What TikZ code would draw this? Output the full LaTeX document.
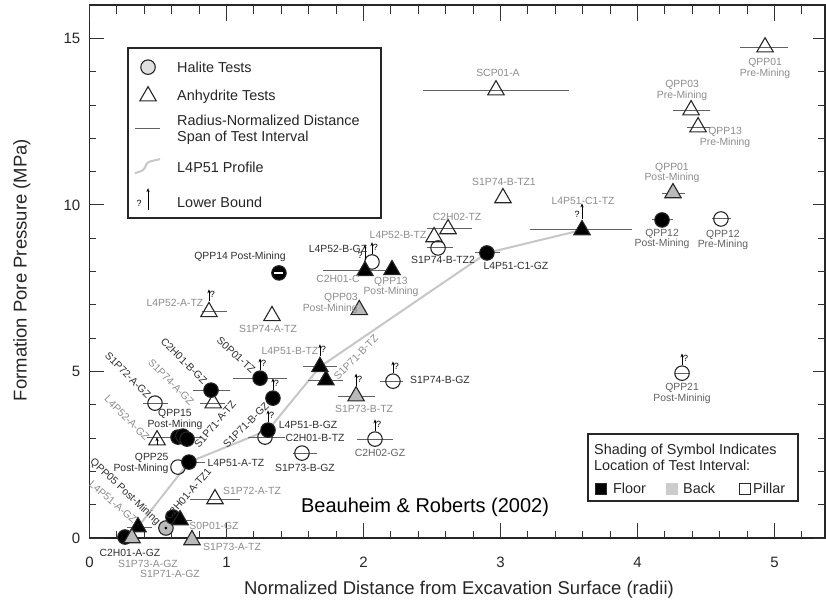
\documentclass[tikz,border=0pt]{standalone}
\usepackage{fontspec}
\setmainfont{Liberation Sans}
\usetikzlibrary{shapes.geometric,arrows.meta,backgrounds,positioning}

\tikzset{
  sym/.style={draw=black!85, line width=1.1pt, inner sep=0pt},
  halite/.style={sym, circle, minimum size=14.5pt},
  anhy/.style={sym, regular polygon, regular polygon sides=3, minimum size=19pt},
  floor/.style={fill=black},
  back/.style={fill=black!27},
  pillar/.style={},
  lab/.style={font=\fontsize{10.4}{10.8}\selectfont, text=black!45, align=center, inner sep=0pt},
  mlab/.style={lab, text=black!62},
  dlab/.style={lab, text=black!82},
  bar/.style={draw=black!62, line width=1pt},
  profile/.style={draw=black!22, line width=2pt},
  lbarrow/.style={-{Stealth[length=4pt,width=3.2pt]}, line width=0.8pt},
  qmark/.style={font=\fontsize{9}{9}\selectfont, inner sep=0pt},
  tick/.style={line width=1pt, draw=black!80},
  ticklab/.style={font=\fontsize{15}{15}\selectfont, text=black!85, inner sep=0pt},
  legbox/.style={draw=black!85, line width=1.8pt, inner sep=0pt},
  legtext/.style={font=\fontsize{14.4}{16}\selectfont, text=black!85, anchor=west, inner sep=0pt, align=left},
  swatch/.style={draw=black!85, line width=0.8pt, minimum width=11.5pt, minimum height=11pt, inner sep=0pt},
}

% error bar through a test symbol, lower-bound arrows, labels
\newcommand{\ebar}[3]{\draw[bar] (#2,0 |- #1.center) -- (#3,0 |- #1.center);}
\newcommand{\lbR}[1]{\draw[lbarrow] (#1.north) -- ++(0,12pt) node[qmark, pos=0.55, right=0.6pt] {?};}
\newcommand{\lbL}[1]{\draw[lbarrow] (#1.north) -- ++(0,16pt) node[qmark, pos=0.3, left=2pt] {?};}
\newcommand{\ptlab}[4][lab]{\node[#1] at ([shift={(#3)}]#2.center) {#4};}

\begin{document}
\begin{tikzpicture}[x=137pt, y=33.3pt]
\useasboundingbox (-0.65328,-1.95195) rectangle (5.37591,16.1562);

% frame and ticks
\draw[line width=1.8pt, draw=black!85] (0,0) rectangle (5.37,16);
\foreach \i in {0.2,0.4,...,5.21} {
  \draw[tick] (\i,0) -- ++(0,7pt);
  \draw[tick] (\i,16) -- ++(0,-9pt);
}
\foreach \i in {0,...,5} {
  \draw[tick] (\i,0) -- ++(0,15pt);
  \draw[tick] (\i,16) -- ++(0,-16pt);
  \node[ticklab] at ([yshift=-24pt]\i,0) {\i};
}
\foreach \j in {1,...,15} {
  \draw[tick] (0,\j) -- ++(7pt,0);
  \draw[tick] (5.37,\j) -- ++(-7pt,0);
}
\foreach \j in {0,5,10,15} {
  \draw[tick] (0,\j) -- ++(15pt,0);
  \draw[tick] (5.37,\j) -- ++(-12pt,0);
  \node[ticklab, anchor=east] at ([xshift=-9pt]0,\j) {\j};
}
\node[font=\fontsize{18.5}{18.5}\selectfont, text=black!85] (xtitle) at (2.697,-1.562) {Normalized Distance from Excavation Surface (radii)};
\node[font=\fontsize{18.5}{18.5}\selectfont, text=black!85, rotate=90] (ytitle) at (-0.493,8.05) {Formation Pore Pressure (MPa)};
\node[font=\fontsize{20}{20}\selectfont] (cite) at (2.449,0.931) {Beauheim \& Roberts (2002)};

% pillar and back tests
\node[anhy,pillar] (qppApre) at (4.931,14.74) {};
\node[anhy,pillar] (scpA) at (2.967,13.45) {};
\node[anhy,pillar] (qppCpre) at (4.391,12.85) {};
\node[anhy,pillar] (qppMpre) at (4.442,12.34) {};
\node[anhy,pillar] (sBtzA) at (3.018,10.21) {};
\node[anhy,back] (qppApost) at (4.259,10.36) {};
\node[halite,pillar] (qppLpre) at (4.609,9.58) {};
\node[anhy,pillar] (cBtz) at (2.617,9.28) {};
\node[anhy,pillar] (lBtzB) at (2.515,9.04) {};
\node[halite,pillar] (sBtzB) at (2.544,8.71) {};
\node[halite,pillar] (lBgzB) at (2.062,8.29) {};
\node[anhy,back] (qppCpost) at (1.969,6.85) {};
\node[anhy,pillar] (lAtzB) at (0.872,6.79) {};
\node[anhy,pillar] (sAtzD) at (1.332,6.67) {};
\node[anhy,pillar] (sAgzD) at (0.903,4.05) {};
\node[halite,pillar] (sAgzB) at (0.478,4.05) {};
\node[anhy,pillar] (lAgzB) at (0.493,2.94) {};
\node[halite,pillar] (cBtzH) at (1.281,3.03) {};
\node[anhy,back] (sBtzC) at (1.946,4.26) {};
\node[halite,pillar] (sBgzD) at (2.215,4.71) {};
\node[halite,pillar] (cBgzB) at (2.084,2.97) {};
\node[halite,pillar] (sBgzC) at (1.551,2.55) {};
\node[halite,pillar] (qppY) at (0.646,2.13) {};
\node[anhy,pillar] (sAtzB) at (0.916,1.17) {};
\node[halite,back] (sOgz) at (0.558,0.30) {};
\fill (sOgz.center) circle (1.5pt);
\node[halite,pillar] (qppU) at (4.325,4.95) {};

% floor tests
\node[halite,floor] (qppLpost) at (4.179,9.55) {};
\node[anhy,floor] (lCtz) at (3.595,9.25) {};
\node[halite,floor] (lCgz) at (2.901,8.56) {};
\node[anhy,floor] (cCx) at (2.011,8.02) {};
\node[anhy,floor] (qppMpost) at (2.208,8.05) {};
\node[halite,floor] (qppN) at (1.383,7.96) {};
\draw[white, line width=1.5pt] ([xshift=-4.5pt]qppN.center) -- ([xshift=4.5pt]qppN.center);
\node[halite,floor] (sOtz) at (1.245,4.80) {};
\node[halite,floor] (cBgz) at (0.887,4.44) {};
\node[halite,floor] (qppOa) at (0.646,3.03) {};
\node[halite,floor] (qppOb) at (0.682,3.06) {};
\node[halite,floor] (qppOc) at (0.712,2.97) {};
\node[halite,floor] (sBgzA) at (1.339,4.20) {};
\node[halite,floor] (lBgz) at (1.303,3.24) {};
\node[anhy,floor] (lBtz) at (1.682,5.14) {};
\node[anhy,floor] (sBtzA1) at (1.726,4.74) {};
\node[halite,floor] (lAtz) at (0.726,2.28) {};
\node[halite,floor] (cAtzH) at (0.609,0.63) {};
\node[anhy,floor] (cAtz) at (0.661,0.54) {};
\node[halite,floor] (cAgz) at (0.259,0.03) {};
\node[anhy,floor] (lAgz) at (0.354,0.33) {};
\node[anhy,back] (sAgzC) at (0.310,0.0) {};
\node[anhy,back] (sAtzC) at (0.748,-0.06) {};

% bars and L4P51 profile behind the symbols
\begin{pgfonlayer}{background}
\draw[profile] (lAgz.center) -- (lAtz.center) -- (lBgz.center) -- (lBtz.center) -- (lCgz.center) -- (lCtz.center);
\ebar{qppApre}{4.748}{5.099}
\ebar{scpA}{2.434}{3.500}
\ebar{qppCpre}{4.259}{4.529}
\ebar{qppMpre}{4.361}{4.529}
\ebar{qppApost}{4.179}{4.347}
\ebar{qppLpost}{4.106}{4.259}
\ebar{qppLpre}{4.544}{4.682}
\ebar{lCtz}{3.215}{3.959}
\ebar{lCgz}{2.814}{2.996}
\ebar{cBtz}{2.464}{2.792}
\ebar{sBtzB}{2.467}{2.653}
\ebar{cCx}{1.704}{2.193}
\ebar{lAtzB}{0.821}{1.004}
\ebar{sOtz}{1.047}{1.442}
\ebar{cBgz}{0.755}{1.026}
\ebar{sAgzD}{0.807}{0.989}
\ebar{sAgzB}{0.391}{0.573}
\ebar{qppOa}{0.420}{0.821}
\ebar{cBtzH}{1.157}{1.427}
\ebar{lBtz}{1.558}{1.807}
\ebar{sBtzA1}{1.595}{1.850}
\ebar{sBtzC}{1.814}{2.084}
\ebar{sBgzD}{2.120}{2.288}
\ebar{cBgzB}{1.953}{2.215}
\ebar{sBgzC}{1.485}{1.661}
\ebar{lAtz}{0.683}{0.843}
\ebar{sAtzB}{0.734}{1.100}
\ebar{cAtz}{0.573}{0.748}
\ebar{lAgz}{0.274}{0.456}
\ebar{cAgz}{0.150}{0.880}
\ebar{qppU}{4.274}{4.376}
\end{pgfonlayer}

% lower bounds
\lbL{lCtz}
\lbL{cCx}
\lbR{lBgzB}
\lbR{lAtzB}
\lbR{sOtz}
\lbR{sBgzA}
\lbR{lBgz}
\lbR{lBtz}
\lbR{sBtzC}
\lbR{sBgzD}
\lbR{cBgzB}
\lbR{qppU}
\draw[lbarrow, line width=0.6pt] ([yshift=-5pt]lAgzB.center) -- ([yshift=3pt]lAgzB.center);

% labels
\ptlab{qppApre}{0pt,-21pt}{QPP01\\Pre-Mining}
\ptlab{scpA}{2pt,17pt}{SCP01-A}
\ptlab{qppCpre}{-9pt,19.5pt}{QPP03\\Pre-Mining}
\ptlab{qppMpre}{27pt,-10.5pt}{QPP13\\Pre-Mining}
\ptlab{sBtzA}{1pt,16pt}{S1P74-B-TZ1}
\ptlab{qppApost}{-1pt,20pt}{QPP01\\Post-Mining}
\ptlab[mlab]{qppLpost}{0pt,-19pt}{QPP12\\Post-Mining}
\ptlab[mlab]{qppLpre}{2pt,-21pt}{QPP12\\Pre-Mining}
\ptlab{lCtz}{1pt,29pt}{L4P51-C1-TZ}
\ptlab[dlab]{lCgz}{29pt,-13pt}{L4P51-C1-GZ}
\ptlab{cBtz}{9pt,12pt}{C2H02-TZ}
\ptlab{lBtzB}{-36pt,2pt}{L4P52-B-TZ}
\ptlab[dlab]{sBtzB}{5pt,-12pt}{S1P74-B-TZ2}
\ptlab[dlab]{lBgzB}{-34pt,13pt}{L4P52-B-GZ}
\ptlab{cCx}{-27pt,-8pt}{C2H01-C}
\ptlab{qppMpost}{-1pt,-17pt}{QPP13\\Post-Mining}
\ptlab[lab,align=right]{qppCpost}{-29pt,6.5pt}{QPP03\\Post-Mining}
\ptlab[dlab]{qppN}{-39pt,16pt}{QPP14 Post-Mining}
\ptlab{lAtzB}{-34pt,9pt}{L4P52-A-TZ}
\ptlab{sAtzD}{-4pt,-13pt}{S1P74-A-TZ}
\ptlab[dlab,rotate=-42]{sOtz}{-24pt,23pt}{S0P01-TZ}
\ptlab[dlab,rotate=-45]{cBgz}{-27pt,29pt}{C2H01-B-GZ}
\ptlab[lab,rotate=-45]{sAgzD}{-42pt,21pt}{S1P74-A-GZ}
\ptlab[dlab,rotate=-45]{sAgzB}{-27pt,28pt}{S1P72-A-GZ}
\ptlab[dlab]{qppOa}{-3pt,18pt}{QPP15\\Post-Mining}
\ptlab[dlab,rotate=50]{qppOc}{28pt,15pt}{S1P71-A-TZ}
\ptlab[lab,rotate=-45]{lAgzB}{-30pt,22pt}{L4P52-A-GZ}
\ptlab[dlab,rotate=45]{sBgzA}{-27pt,-27pt}{S1P71-B-GZ}
\ptlab[dlab]{lBgz}{40pt,5pt}{L4P51-B-GZ}
\ptlab[dlab]{cBtzH}{50pt,-1pt}{C2H01-B-TZ}
\ptlab{lBtz}{-30pt,16pt}{L4P51-B-TZ}
\ptlab[lab,rotate=45]{sBtzA1}{30pt,23pt}{S1P71-B-TZ}
\ptlab{sBtzC}{8pt,-13pt}{S1P73-B-TZ}
\ptlab[dlab]{sBgzD}{47pt,1pt}{S1P74-B-GZ}
\ptlab[mlab]{cBgzB}{5pt,-14pt}{C2H02-GZ}
\ptlab[dlab]{sBgzC}{3pt,-15pt}{S1P73-B-GZ}
\ptlab[dlab]{lAtz}{47pt,-1pt}{L4P51-A-TZ}
\ptlab[dlab,align=right]{qppY}{-37pt,3.5pt}{QPP25\\Post-Mining}
\ptlab{sAtzB}{37pt,8pt}{S1P72-A-TZ}
\ptlab[dlab,rotate=49]{cAtz}{8pt,26pt}{C2H01-A-TZ1}
\ptlab{sOgz}{48pt,2pt}{S0P01-GZ}
\ptlab[dlab,rotate=-43]{sOgz}{-41pt,36pt}{QPP05 Post-Mining}
\ptlab[lab,rotate=-40]{lAgz}{-25pt,25pt}{L4P51-A-GZ}
\ptlab[dlab]{cAgz}{5pt,-16pt}{C2H01-A-GZ}
\ptlab{sAgzC}{16pt,-26pt}{S1P73-A-GZ}
\ptlab{sAgzC}{38pt,-36pt}{S1P71-A-GZ}
\ptlab{sAtzC}{40pt,-7pt}{S1P73-A-TZ}
\ptlab[mlab]{qppU}{0pt,-20.5pt}{QPP21\\Post-Mininig}

% symbol legend
\node[legbox, fill=white, minimum width=253pt, minimum height=170pt, anchor=north west] (legA) at (0.274,14.74) {};
\node[halite, fill=black!12] (legHal) at ([shift={(21pt,-20pt)}]legA.north west) {};
\node[legtext] at ([shift={(50pt,-20pt)}]legA.north west) {Halite Tests};
\node[anhy] (legAnh) at ([shift={(21pt,-49pt)}]legA.north west) {};
\node[legtext] at ([shift={(50pt,-50pt)}]legA.north west) {Anhydrite Tests};
\draw[bar] ([shift={(8pt,-81pt)}]legA.north west) -- ++(25pt,0);
\node[legtext] at ([shift={(50pt,-83pt)}]legA.north west) {Radius-Normalized Distance\\Span of Test Interval};
\draw[profile, rounded corners=3pt] ([shift={(8pt,-126pt)}]legA.north west) -- ++(9pt,3pt) -- ++(3pt,8pt) -- ++(13pt,3pt);
\node[legtext] at ([shift={(50pt,-120pt)}]legA.north west) {L4P51 Profile};
\draw[lbarrow] ([shift={(21pt,-163pt)}]legA.north west) -- ++(0,22pt);
\node[qmark] at ([shift={(12pt,-156pt)}]legA.north west) {?};
\node[legtext] at ([shift={(50pt,-155pt)}]legA.north west) {Lower Bound};

% shading legend
\node[legbox, fill=white, minimum width=210pt, minimum height=67pt, anchor=north west] (legB) at (3.631,3.153) {};
\node[legtext] at ([shift={(7pt,-24pt)}]legB.north west) {Shading of Symbol Indicates\\Location of Test Interval:};
\node[swatch, fill=black] at ([shift={(14pt,-55.5pt)}]legB.north west) {};
\node[legtext] at ([shift={(26pt,-55.5pt)}]legB.north west) {Floor};
\node[swatch, fill=black!20, draw=black!20] at ([shift={(85pt,-55.5pt)}]legB.north west) {};
\node[legtext] at ([shift={(96pt,-55.5pt)}]legB.north west) {Back};
\node[swatch] at ([shift={(158pt,-55.5pt)}]legB.north west) {};
\node[legtext] at ([shift={(166pt,-55.5pt)}]legB.north west) {Pillar};
\end{tikzpicture}
\end{document}
